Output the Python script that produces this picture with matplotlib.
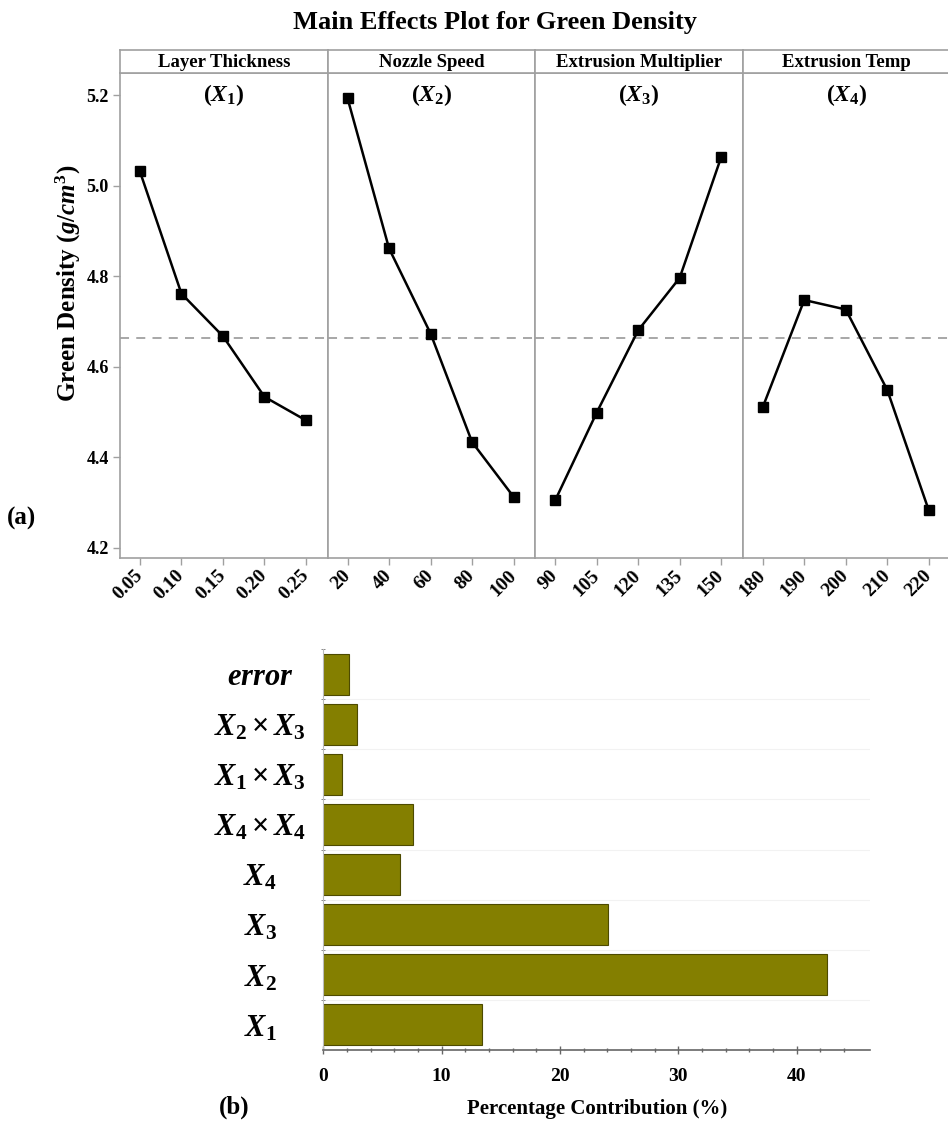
import matplotlib
matplotlib.use('Agg')
import matplotlib.pyplot as plt
import numpy as np

plt.rcParams['font.family'] = 'Liberation Serif'
plt.rcParams['font.weight'] = 'bold'
plt.rcParams['axes.labelweight'] = 'bold'
plt.rcParams['mathtext.fontset'] = 'custom'
plt.rcParams['mathtext.rm'] = 'Liberation Serif:bold'
plt.rcParams['mathtext.it'] = 'Liberation Serif:italic:bold'
plt.rcParams['mathtext.bf'] = 'Liberation Serif:bold'

# main effects data (mean green density at each level)
headers = ['Layer Thickness', 'Nozzle Speed', 'Extrusion Multiplier', 'Extrusion Temp']
symbols = [r'$(X_1)$', r'$(X_2)$', r'$(X_3)$', r'$(X_4)$']
layer_levels = ['0.05', '0.10', '0.15', '0.20', '0.25']
layer_vals = [5.032, 4.762, 4.668, 4.534, 4.482]
speed_levels = ['20', '40', '60', '80', '100']
speed_vals = [5.194, 4.862, 4.674, 4.434, 4.313]
mult_levels = ['90', '105', '120', '135', '150']
mult_vals = [4.305, 4.499, 4.681, 4.797, 5.064]
temp_levels = ['180', '190', '200', '210', '220']
temp_vals = [4.511, 4.748, 4.727, 4.549, 4.283]
grand_mean = 4.665
yticks_a = [4.2, 4.4, 4.6, 4.8, 5.0, 5.2]

# ANOVA percentage contribution
terms = [r'$X_1$', r'$X_2$', r'$X_3$', r'$X_4$',
         r'$X_4\times X_4$', r'$X_1\times X_3$',
         r'$X_2\times X_3$', r'$error$']
contrib = [13.38, 42.53, 24.03, 6.47, 7.54, 1.62, 2.84, 2.19]

W, H = 948, 1129
fig = plt.figure(figsize=(9.48, 11.29), dpi=100)

def fx(px):
    return px / W

def fy(py):
    return 1 - py / H

levels = [layer_levels, speed_levels, mult_levels, temp_levels]
values = [layer_vals, speed_vals, mult_vals, temp_vals]
grey = '#a0a0a0'
pw = 207.6
top, bot = 73.3, 557.5

for i in range(4):
    left = 120 + i * pw
    ax = fig.add_axes([fx(left), fy(bot), fx(pw), (bot - top) / H])
    x = np.arange(len(values[i]))
    ax.axhline(grand_mean, color=grey, ls=(0, (5, 4)), lw=1.3, zorder=1)
    ax.plot(x, values[i], color='black', lw=1.8, marker='s', ms=7, zorder=3)
    ax.set_xlim(-0.48, 4.52)
    ax.set_ylim(4.179, 5.249)
    ax.set_xticks(x)
    ax.set_xticklabels(levels[i], rotation=45, ha='right', va='center',
                       rotation_mode='anchor', fontsize=14)
    for s in ax.spines.values():
        s.set_color(grey)
        s.set_linewidth(1.2)
    ax.tick_params(color=grey, length=5, width=1, pad=6)
    if i == 0:
        ax.set_yticks(yticks_a)
        ax.set_yticklabels(['%.1f' % v for v in yticks_a], fontsize=13)
        ax.tick_params(axis='y', pad=3)
    else:
        ax.set_yticks([])
    ax.text(0.5, 0.955, symbols[i], transform=ax.transAxes, ha='center',
            va='center', fontsize=17)

    strip = fig.add_axes([fx(left), fy(top), fx(pw), (top - 50) / H])
    strip.set_xticks([])
    strip.set_yticks([])
    for s in strip.spines.values():
        s.set_color(grey)
        s.set_linewidth(1.2)
    strip.text(0.5, 0.45, headers[i], transform=strip.transAxes, ha='center',
               va='center', fontsize=13.5)

fig.text(fx(495), fy(22), 'Main Effects Plot for Green Density', ha='center',
         va='center', fontsize=19)
fig.text(fx(68), fy(283), r'Green Density $(g/cm^3)$', rotation=90,
         ha='center', va='center', fontsize=18)
fig.text(fx(22), fy(518), '(a)', ha='center', va='center', fontsize=18)

# percentage contribution bars
axb = fig.add_axes([fx(323.3), fy(1050), fx(870 - 323.3), (1050 - 649) / H])
yb = np.arange(len(contrib))
axb.hlines(np.arange(0.5, 7.5, 1), 0, 46.2, color='#f2f2f2', lw=0.8, zorder=0)
axb.barh(yb, contrib, height=0.82, color='#847f00', edgecolor='#4d4a00',
         lw=0.8, zorder=2)
axb.set_xlim(0, 46.2)
axb.set_ylim(-0.5, 7.5)
axb.set_yticks(yb)
axb.set_yticklabels(terms, fontsize=22)
for t in axb.get_yticklabels():
    t.set_ha('center')
axb.tick_params(axis='y', which='major', length=0, pad=45.5)
axb.set_yticks(np.arange(0.5, 8, 1), minor=True)
axb.tick_params(axis='y', which='minor', length=3, color='#777777',
                direction='inout')
axb.set_xticks([0, 10, 20, 30, 40])
axb.set_xticks(np.arange(0, 46, 2), minor=True)
axb.tick_params(axis='x', which='major', length=6, width=1, color='#666666',
                direction='inout', labelsize=14, pad=10)
axb.tick_params(axis='x', which='minor', length=3, width=1, color='#666666',
                direction='inout')
axb.spines['top'].set_visible(False)
axb.spines['right'].set_visible(False)
axb.spines['bottom'].set_color('#666666')
axb.spines['bottom'].set_linewidth(1.2)
axb.spines['left'].set_color('#bbbbbb')
axb.spines['left'].set_linewidth(0.8)
axb.set_xlabel('Percentage Contribution (%)', fontsize=15, fontweight='bold')
axb.xaxis.set_label_coords(0.5, -0.122)
fig.text(fx(234), fy(1107), '(b)', ha='center', va='center', fontsize=18)

fig.savefig('out.png', dpi=100)
